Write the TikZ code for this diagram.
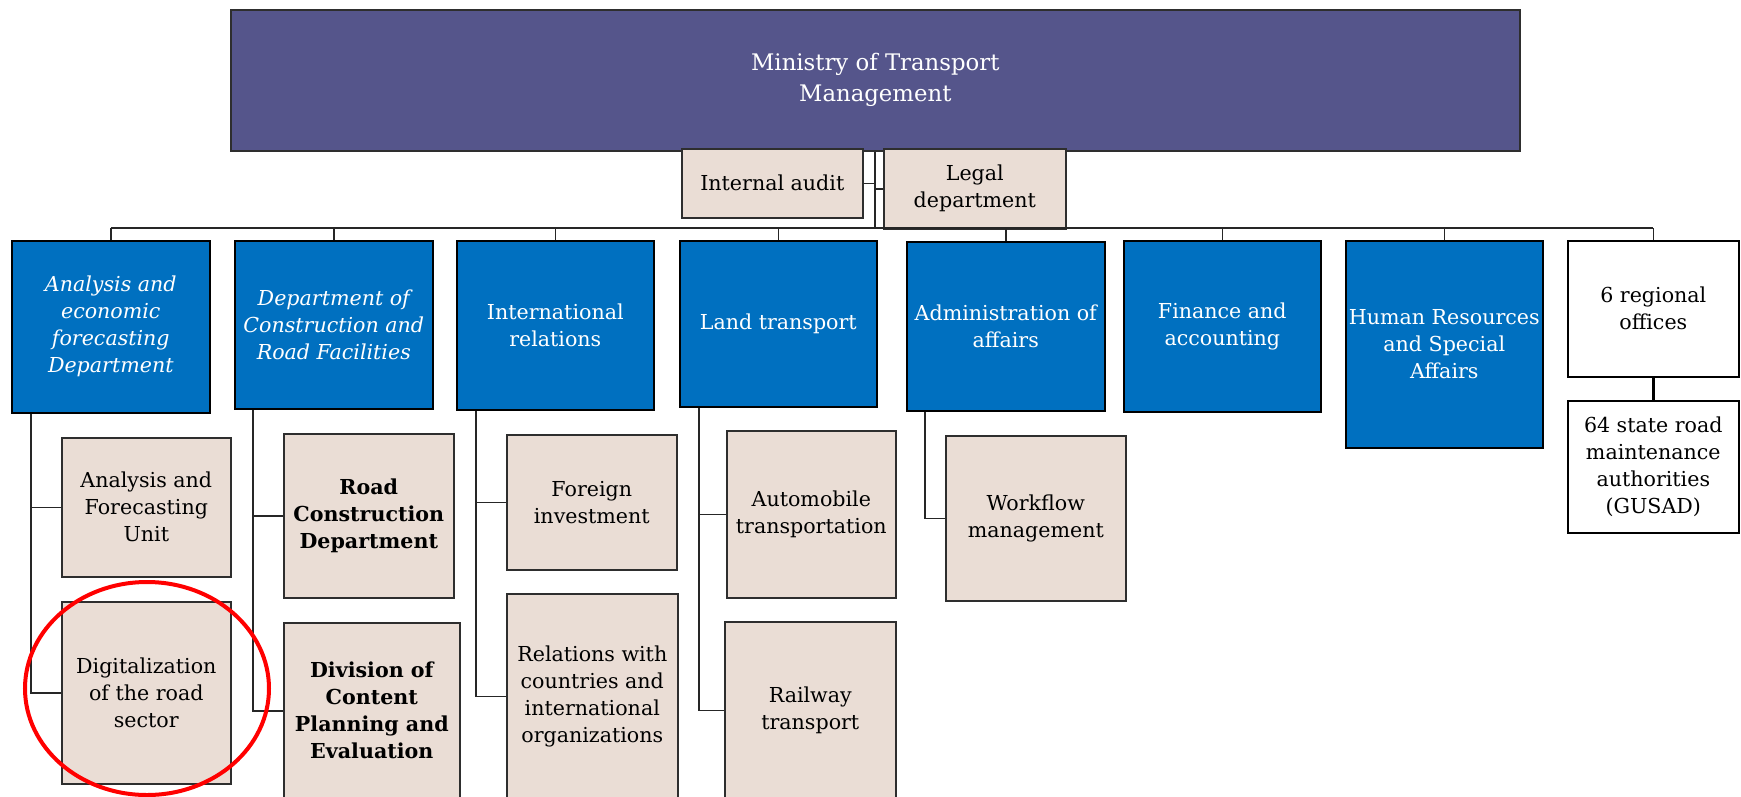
\documentclass[tikz,border=0pt]{standalone}
\usepackage{fontspec}
\setmainfont{DejaVu Serif}
\definecolor{topc}{HTML}{55558B}
\definecolor{bluec}{HTML}{0070C0}
\definecolor{beige}{HTML}{EADDD5}
\definecolor{edgec}{HTML}{2E2E2E}
\newcommand\bx[7]{%
  \pgfmathsetmacro\bw{#5-#3}\pgfmathsetmacro\bh{#6-#4}%
  \node[#2, anchor=north west, minimum width=\bw pt, minimum height=\bh pt] (#1) at (#3,#4) {#7};}
\newcommand\boxfont{\fontsize{20.6}{27}\selectfont}
\tikzset{
  base/.style={draw=edgec, line width=1.6pt, inner sep=0pt, align=center, font=\boxfont},
  topbox/.style={base, fill=topc, text=white, font=\fontsize{22.8}{31}\selectfont},
  bluebox/.style={base, fill=bluec, text=white, draw=black},
  beigebox/.style={base, fill=beige, text=black},
  whitebox/.style={base, fill=white, text=black, draw=black},
  conn/.style={draw=black!85, line width=1.4pt},
  thickconn/.style={draw=black, line width=3pt},
  highlight/.style={draw=red, line width=4pt}
}
\begin{document}
\begin{tikzpicture}[x=1pt,y=-1pt]
\path[use as bounding box] (0,0) rectangle (1741,796);
\clip (0,0) rectangle (1741,796);
\fill[white] (0,0) rectangle (1741,796);
\coordinate (bus) at (874,228);
% nodes
\bx{top}{topbox}{230}{9}{1519}{150}{Ministry of Transport\\Management}
\bx{audit}{beigebox}{681}{148}{862}{217}{Internal audit}
\bx{legal}{beigebox}{883}{148}{1065}{228}{Legal\\department}
\bx{b1}{bluebox,font=\boxfont\itshape}{11}{240}{209}{412}{Analysis and\\economic\\forecasting\\Department}
\bx{b2}{bluebox,font=\boxfont\itshape}{234}{240}{432}{408}{Department of\\Construction and\\Road Facilities}
\bx{b3}{bluebox}{456}{240}{653}{409}{International\\relations}
\bx{b4}{bluebox}{679}{240}{876}{406}{Land transport}
\bx{b5}{bluebox}{906}{241}{1104}{410}{Administration of\\affairs}
\bx{b6}{bluebox}{1123}{240}{1320}{411}{Finance and\\accounting}
\bx{b7}{bluebox}{1345}{240}{1542}{447}{Human Resources\\and Special\\Affairs}
\bx{b8}{whitebox}{1567}{240}{1738}{376}{6 regional\\offices}
\bx{g8}{whitebox}{1567}{400}{1738}{532}{64 state road\\maintenance\\authorities\\(GUSAD)}
\bx{c11}{beigebox}{61}{437}{230}{576}{Analysis and\\Forecasting\\Unit}
\bx{c12}{beigebox}{61}{601}{230}{783}{Digitalization\\of the road\\sector}
\bx{c21}{beigebox,font=\boxfont\bfseries}{283}{433}{453}{597}{Road\\Construction\\Department}
\bx{c22}{beigebox,font=\boxfont\bfseries}{283}{622}{459}{798}{Division of\\Content\\Planning and\\Evaluation}
\bx{c31}{beigebox}{506}{434}{676}{569}{Foreign\\investment}
\bx{c32}{beigebox}{506}{593}{677}{798}{Relations with\\countries and\\international\\organizations}
\bx{c41}{beigebox}{726}{430}{895}{597}{Automobile\\transportation}
\bx{c42}{beigebox}{724}{621}{895}{798}{Railway\\transport}
\bx{c51}{beigebox}{945}{435}{1125}{600}{Workflow\\management}
% drop points
\coordinate (d1) at ([xshift=20pt]b1.south west);
\coordinate (d2) at ([xshift=19pt]b2.south west);
\coordinate (d3) at ([xshift=20pt]b3.south west);
\coordinate (d4) at ([xshift=20pt]b4.south west);
\coordinate (d5) at ([xshift=19pt]b5.south west);
% spine and bus
\draw[conn, line width=2.2pt] (top.south) -- (top.south |- bus);
\draw[conn] (audit.east) -- (audit.east -| top.south);
\draw[conn] (legal.west) -- (legal.west -| top.south);
\draw[conn, line width=1.8pt] (b1.north |- bus) -- (b8.north |- bus);
\foreach \n in {b1,b2,b3,b4,b5,b6,b7,b8}{
  \draw[conn] (\n.north) -- (\n.north |- bus);
}
% sub connectors
\draw[conn] (d1) |- (c12.west);
\draw[conn] (c11.west) -- (c11.west -| d1);
\draw[conn] (d2) |- (c22.west);
\draw[conn] (c21.west) -- (c21.west -| d2);
\draw[conn] (d3) |- (c32.west);
\draw[conn] (c31.west) -- (c31.west -| d3);
\draw[conn] (d4) |- (c42.west);
\draw[conn] (c41.west) -- (c41.west -| d4);
\draw[conn] (d5) |- (c51.west);
\draw[thickconn] (b8.south) -- (g8.north);
% highlight ellipse
\draw[highlight] (147,688.5) ellipse [x radius=122pt, y radius=106.5pt];
\end{tikzpicture}
\end{document}
